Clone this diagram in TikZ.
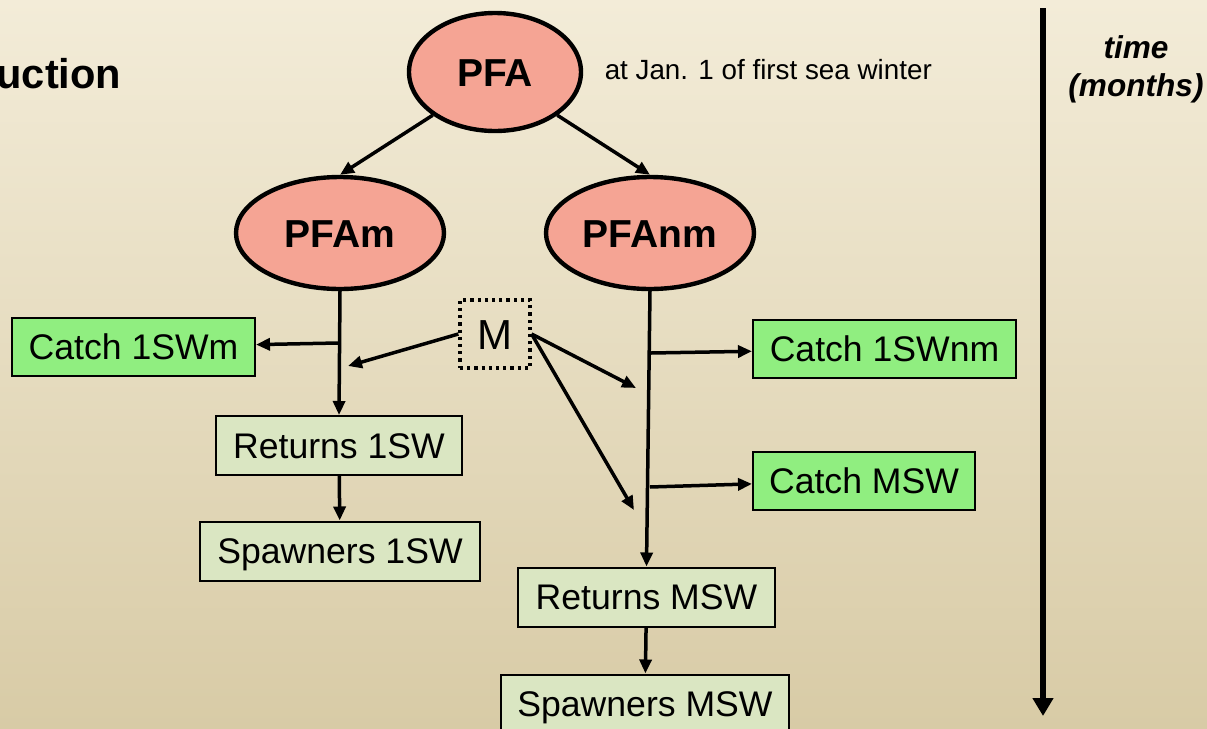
\documentclass[tikz,border=0pt]{standalone}
\usepackage{fontspec}
\setmainfont{Liberation Sans}
\usetikzlibrary{arrows.meta,shapes.geometric}
\definecolor{bgtop}{RGB}{243,236,216}
\definecolor{bgmid}{RGB}{237,228,204}
\definecolor{bgbot}{RGB}{216,203,166}
\definecolor{salmon}{RGB}{245,164,148}
\definecolor{catchgreen}{RGB}{144,238,128}
\definecolor{palegreen}{RGB}{218,230,194}
\begin{document}
\begin{tikzpicture}[x=0.5pt,y=-0.5pt,>={Triangle[length=7pt,width=6pt]},line width=1.75pt,
  stock/.style={ellipse,draw,line width=2.2pt,fill=salmon,inner sep=0pt,
    minimum width=104pt,minimum height=56pt,text height=14pt,text depth=0pt,
    font=\fontsize{19.5}{23}\selectfont\bfseries},
  catchbox/.style={draw,line width=1pt,fill=catchgreen,inner sep=0pt,
    minimum height=29pt,text height=12.75pt,text depth=0pt,font=\fontsize{17.8}{21}\selectfont},
  stagebox/.style={draw,line width=1pt,fill=palegreen,inner sep=0pt,
    minimum height=29.5pt,text height=12.75pt,text depth=0pt,font=\fontsize{17.8}{21}\selectfont}]
  \useasboundingbox (0,0) rectangle (1207,729);
  \clip (0,0) rectangle (1207,729);
  \shade[top color=bgtop,middle color=bgmid,bottom color=bgbot] (0,0) rectangle (1207,729);
  \node[anchor=east,inner sep=0pt,font=\fontsize{20.8}{24}\selectfont\bfseries] (title) at (123,74) {uction};
  % stocks
  \node[stock,minimum width=86pt,minimum height=59pt] (pfa) at (495,72) {PFA};
  \node[anchor=west,inner sep=0pt,font=\fontsize{13.9}{16}\selectfont] (pfanote) at (603,70) {at Jan. 1 of first sea winter};
  \node[stock] (pfam) at (340,233) {PFAm};
  \node[stock] (pfanm) at (650,233) {PFAnm};
  % boxes
  \node[catchbox,minimum width=121.5pt] (c1m) at (133.5,347) {Catch 1SWm};
  \node[catchbox,minimum width=131.5pt] (c1nm) at (884.5,349) {Catch 1SWnm};
  \node[catchbox,minimum width=111pt] (cmsw) at (864,480.5) {Catch MSW};
  \node[stagebox,minimum width=123pt] (r1) at (339,445.5) {Returns 1SW};
  \node[stagebox,minimum width=140pt] (s1) at (340,551) {Spawners 1SW};
  \node[stagebox,minimum width=128.5pt] (rm) at (646.5,597) {Returns MSW};
  \node[stagebox,minimum width=144pt] (sm) at (645,704) {Spawners MSW};
  \node[draw,dotted,line width=1.6pt,inner sep=0pt,minimum width=35pt,minimum height=34pt,
    text height=15pt,text depth=0pt,font=\fontsize{21}{24}\selectfont] (m) at (495,334) {M};
  % free ends
  \coordinate (b1) at (338,343);
  \coordinate (b2) at (651,353);
  \coordinate (b3) at (650,487);
  \coordinate (m1) at (348,366);
  \coordinate (m2) at (636,388);
  \coordinate (m3) at (634,510);
  \coordinate (t0) at (1043,8);
  \coordinate (t1) at (1043,716);
  % connectors
  \draw[->] (pfa.south west) -- (pfam.north);
  \draw[->] (pfa.south east) -- (pfanm.north);
  \draw[->] (pfam.south) -- (r1.north);
  \draw[->] (pfanm.south) -- (rm.north);
  \draw[->] (b1) -- (c1m);
  \draw[->] (b2) -- (c1nm);
  \draw[->] (b3) -- (cmsw);
  \draw[->] (m.west) -- (m1);
  \draw[->] (m.east) -- (m2);
  \draw[->] (m.east) -- (m3);
  \draw[->] (r1) -- (s1);
  \draw[->] (rm) -- (sm);
  % time axis
  \draw[-{Triangle[length=9pt,width=10pt]},line width=2.6pt] (t0) -- (t1);
  \node[align=center,inner sep=0pt,font=\fontsize{15.8}{19}\selectfont\bfseries\itshape] (tlab) at (1136,69) {time\\(months)};
\end{tikzpicture}
\end{document}
